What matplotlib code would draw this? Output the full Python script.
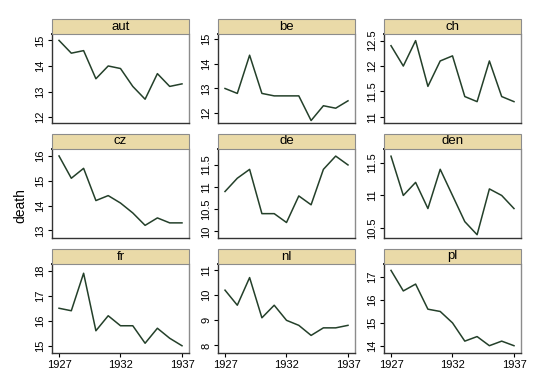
import matplotlib
matplotlib.use("Agg")
import matplotlib.pyplot as plt
from matplotlib.patches import Rectangle

plt.rcParams['font.family'] = ['Liberation Sans', 'DejaVu Sans']

# data
years = list(range(1927, 1938))
countries = ["aut", "be", "ch", "cz", "de", "den", "fr", "nl", "pl"]
aut = [15.0, 14.5, 14.6, 13.5, 14.0, 13.9, 13.2, 12.7, 13.7, 13.2, 13.3]
be = [13.0, 12.8, 14.35, 12.8, 12.7, 12.7, 12.7, 11.7, 12.3, 12.2, 12.5]
ch = [12.4, 12.0, 12.5, 11.6, 12.1, 12.2, 11.4, 11.3, 12.1, 11.4, 11.3]
cz = [16.0, 15.1, 15.5, 14.2, 14.4, 14.1, 13.7, 13.2, 13.5, 13.3, 13.3]
de = [10.9, 11.2, 11.4, 10.4, 10.4, 10.2, 10.8, 10.6, 11.4, 11.7, 11.5]
den = [11.6, 11.0, 11.2, 10.8, 11.4, 11.0, 10.6, 10.4, 11.1, 11.0, 10.8]
fr = [16.5, 16.4, 17.9, 15.6, 16.2, 15.8, 15.8, 15.1, 15.7, 15.3, 15.0]
nl = [10.2, 9.6, 10.7, 9.1, 9.6, 9.0, 8.8, 8.4, 8.7, 8.7, 8.8]
pl = [17.3, 16.4, 16.7, 15.6, 15.5, 15.0, 14.2, 14.4, 14.0, 14.2, 14.0]
series = [aut, be, ch, cz, de, den, fr, nl, pl]

# y ticks and axis ranges per panel
yticks = [[12, 13, 14, 15], [12, 13, 14, 15], [11, 11.5, 12, 12.5],
          [13, 14, 15, 16], [10, 10.5, 11, 11.5], [10.5, 11, 11.5],
          [15, 16, 17, 18], [8, 9, 10, 11], [14, 15, 16, 17]]
ylims = [(11.77, 15.25), (11.6, 15.21), (10.88, 12.63),
         (12.69, 16.28), (9.85, 11.86), (10.35, 11.71),
         (14.71, 18.27), (7.7, 11.24), (13.68, 17.58)]
xticks = [1927, 1932, 1937]

W, H = 540, 392
col_x = [52, 218, 384]
row_y = [34, 149, 264]   # top of plot area (px from top)
pw, ph, strip_h = 137, 89, 15

line_color = "#24402a"
strip_color = "#eadaa8"
frame_color = "#8c8c8c"

fig = plt.figure(figsize=(5.4, 3.92), dpi=100)

for i, (name, vals) in enumerate(zip(countries, series)):
    r, c = divmod(i, 3)
    x0 = col_x[c] / W
    y0 = 1 - (row_y[r] + ph) / H
    ax = fig.add_axes([x0, y0, pw / W, ph / H])
    ax.plot(years, vals, color=line_color, lw=1.1)
    ax.set_xlim(1926.43, 1937.57)
    ax.set_ylim(*ylims[i])
    ax.set_yticks(yticks[i])
    ax.set_yticklabels([f"{t:g}" for t in yticks[i]], rotation=90, va="center")
    ax.tick_params(axis="y", labelsize=8, length=3, width=0.8, pad=2)
    ax.set_xticks(xticks)
    if r == 2:
        ax.tick_params(axis="x", labelsize=8, length=3, width=0.8, pad=2)
    else:
        ax.tick_params(axis="x", labelbottom=False, length=0)
    for side in ["top", "right"]:
        ax.spines[side].set_color(frame_color)
        ax.spines[side].set_linewidth(1.0)
    for side in ["left", "bottom"]:
        ax.spines[side].set_color("#333333")
        ax.spines[side].set_linewidth(1.0)
    ax.spines["top"].set_color("black")
    ax.spines["top"].set_linewidth(1.3)

    # strip title
    sy = 1 - row_y[r] / H
    fig.patches.append(Rectangle((x0, sy), pw / W, strip_h / H,
                                 transform=fig.transFigure,
                                 facecolor=strip_color, edgecolor=frame_color,
                                 lw=0.8, zorder=0))
    fig.text(x0 + pw / W / 2, sy + strip_h / H / 2, name,
             ha="center", va="center", fontsize=9.5)

fig.text(20 / W, 1 - 206 / H, "death", rotation=90,
         ha="center", va="center", fontsize=10)

fig.savefig("out.png", dpi=100)
